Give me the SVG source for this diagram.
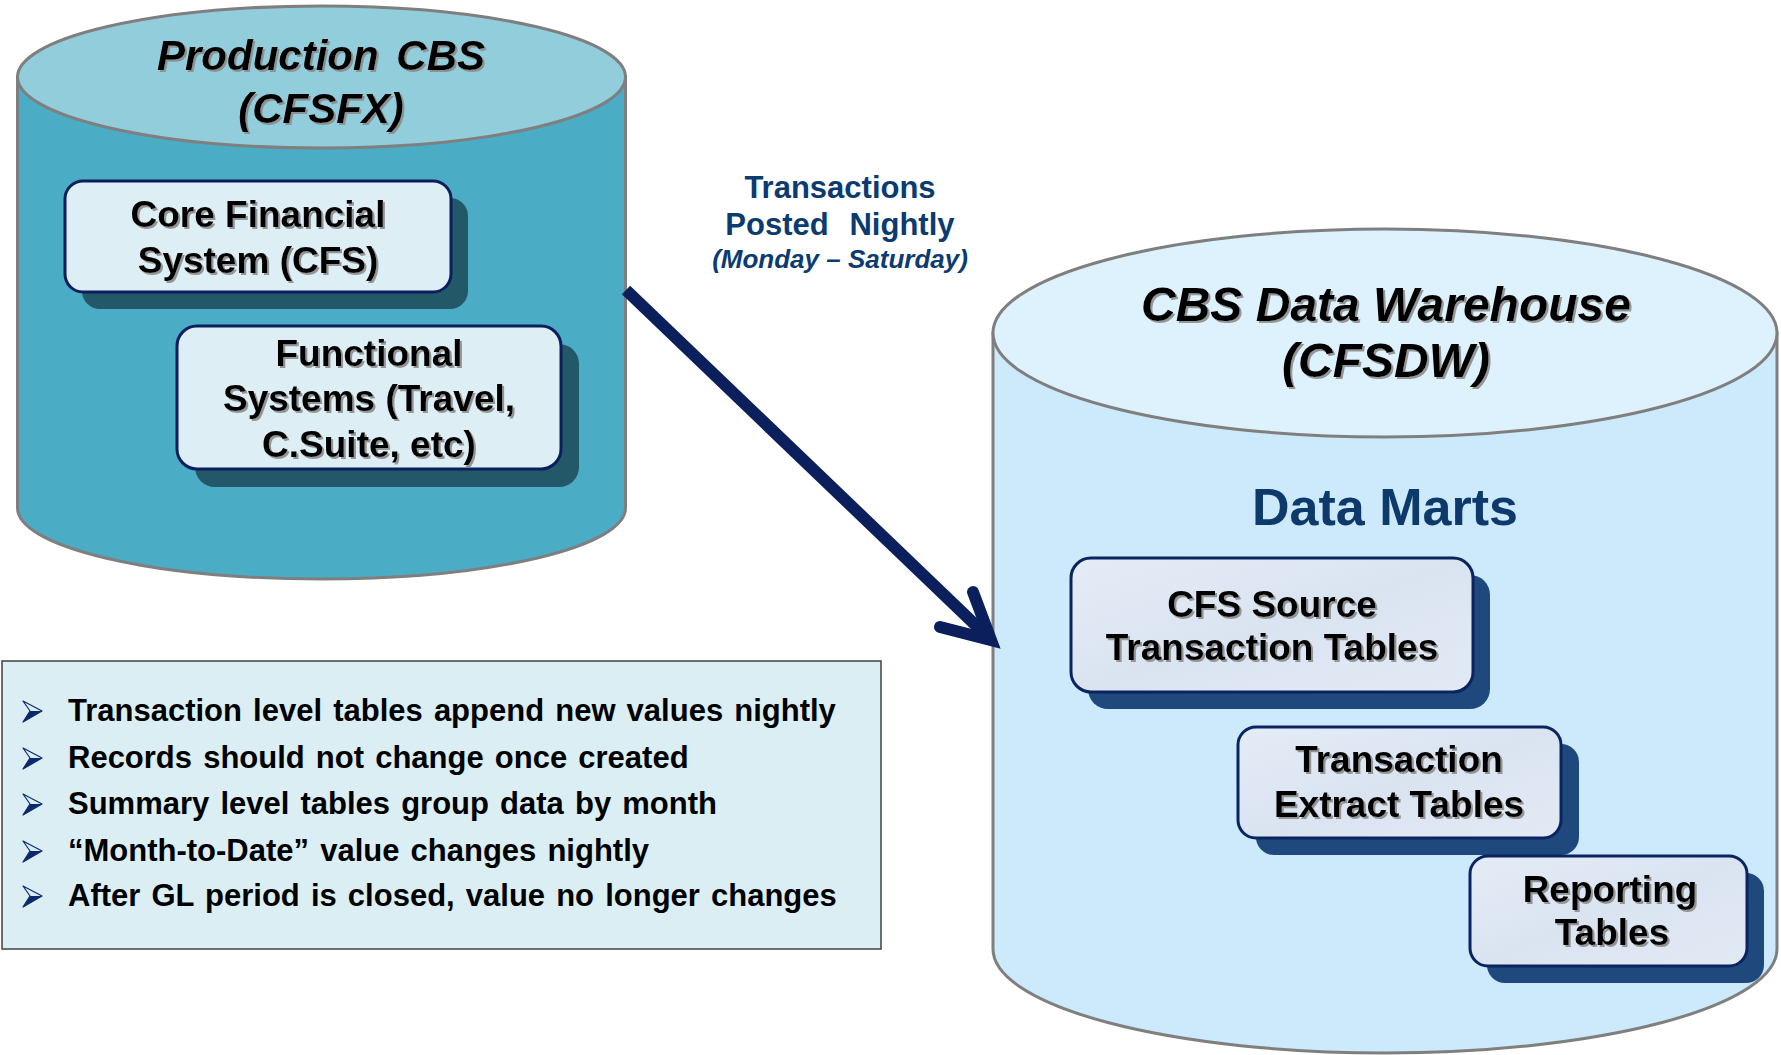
<svg xmlns="http://www.w3.org/2000/svg" width="1781" height="1055" viewBox="0 0 1781 1055">
<defs>
<filter id="ts" x="-5%" y="-20%" width="110%" height="140%">
<feDropShadow dx="2" dy="2" stdDeviation="0.6" flood-color="#8c8c8c" flood-opacity="0.9"/>
</filter>
<linearGradient id="gbox" x1="0" y1="0" x2="1" y2="1">
<stop offset="0" stop-color="#E4ECF6"/>
<stop offset="0.5" stop-color="#DAE4F1"/>
<stop offset="1" stop-color="#E2EAF4"/>
</linearGradient>
<path id="bul" d="M0,-10 L19,0 L0,11 L7,0 Z"/>
</defs>
<style>
text{font-family:"Liberation Sans",Arial,sans-serif;font-weight:bold}
.title{font-style:italic;fill:#000;text-anchor:middle;filter:url(#ts)}
.bt{font-size:37px;fill:#000;text-anchor:middle;filter:url(#ts)}
.lbl{fill:#0B3B70;font-size:31px;text-anchor:middle}
.bl{font-size:31px;fill:#000;word-spacing:2.5px}
.cyl{stroke:#7F7F7F;stroke-width:3}
.lbox{fill:#DDEEF5;stroke:#0B1F5E;stroke-width:3}
.lsh{fill:#235868}
.rbox{fill:url(#gbox);stroke:#0B2460;stroke-width:3}
.rsh{fill:#1F497D}
</style>

<g id="production-cbs">
<path class="cyl" d="M17.5,77 L17.5,508 A304,71 0 0 0 625.5,508 L625.5,77 Z" fill="#4BACC6"/>
<ellipse class="cyl" cx="321.5" cy="77" rx="304" ry="71" fill="#92CDDC"/>
<text class="title" x="321" y="70" font-size="42" word-spacing="6">Production CBS</text>
<text class="title" x="321" y="123" font-size="42">(CFSFX)</text>
</g>

<g id="core-financial-system">
<rect class="lsh" x="82" y="198" width="386" height="111" rx="18"/>
<rect class="lbox" x="65" y="181" width="386" height="111" rx="18"/>
<text class="bt" x="258" y="227">Core Financial</text>
<text class="bt" x="258" y="273">System (CFS)</text>
</g>

<g id="functional-systems">
<rect class="lsh" x="195" y="344" width="384" height="143" rx="20"/>
<rect class="lbox" x="177" y="326" width="384" height="143" rx="20"/>
<text class="bt" x="369" y="366">Functional</text>
<text class="bt" x="369" y="411">Systems (Travel,</text>
<text class="bt" x="369" y="457">C.Suite, etc)</text>
</g>

<g id="cbs-data-warehouse">
<path class="cyl" d="M993,333 L993,949 A392,104 0 0 0 1777,949 L1777,333 Z" fill="#CCEAFB"/>
<ellipse class="cyl" cx="1385" cy="333" rx="392" ry="104" fill="#DEF2FD"/>
<text class="title" x="1386" y="321" font-size="48">CBS Data Warehouse</text>
<text class="title" x="1386" y="377" font-size="48">(CFSDW)</text>
<text x="1385" y="525" font-size="52" fill="#0D3A6B" text-anchor="middle">Data Marts</text>
</g>

<g id="cfs-source-transaction-tables">
<rect class="rsh" x="1088" y="575" width="402" height="134" rx="20"/>
<rect class="rbox" x="1071" y="558" width="402" height="134" rx="20"/>
<text class="bt" x="1272" y="617">CFS Source</text>
<text class="bt" x="1272" y="660">Transaction Tables</text>
</g>

<g id="transaction-extract-tables">
<rect class="rsh" x="1256" y="744" width="323" height="111" rx="18"/>
<rect class="rbox" x="1238" y="727" width="323" height="111" rx="18"/>
<text class="bt" x="1399" y="772">Transaction</text>
<text class="bt" x="1399" y="817">Extract Tables</text>
</g>

<g id="reporting-tables">
<rect class="rsh" x="1487" y="873" width="277" height="110" rx="18"/>
<rect class="rbox" x="1470" y="856" width="277" height="110" rx="18"/>
<text class="bt" x="1610" y="902">Reporting</text>
<text class="bt" x="1612" y="945">Tables</text>
</g>

<g id="connectors">
<line x1="626" y1="290" x2="988" y2="637" stroke="#0A1F5C" stroke-width="12"/>
<polyline points="973,592 991,640 940,627" fill="none" stroke="#0A1F5C" stroke-width="12" stroke-linecap="round" stroke-linejoin="miter"/>
</g>

<g id="transfer-label">
<text class="lbl" x="840" y="198">Transactions</text>
<text class="lbl" y="235"><tspan x="777">Posted</tspan><tspan x="902">Nightly</tspan></text>
<text x="840" y="268" font-size="26" font-style="italic" fill="#0B3B70" text-anchor="middle">(Monday – Saturday)</text>
</g>

<g id="notes">
<rect x="2" y="661" width="879" height="288" fill="#DBEEF4" stroke="#404040" stroke-width="1.5"/>
<g fill="#0B2A6E" stroke="#0B2A6E" stroke-width="1.2" stroke-linejoin="round">
<use href="#bul" x="23" y="711" fill="#DBEEF4"/>
<use href="#bul" x="23" y="758" fill="#DBEEF4"/>
<use href="#bul" x="23" y="804" fill="#DBEEF4"/>
<use href="#bul" x="23" y="851" fill="#DBEEF4"/>
<use href="#bul" x="23" y="896" fill="#DBEEF4"/>
</g>
<g fill="#0B2A6E">
<path d="M23,722 L42,711 L30,711 Z"/>
<path d="M23,769 L42,758 L30,758 Z"/>
<path d="M23,815 L42,804 L30,804 Z"/>
<path d="M23,862 L42,851 L30,851 Z"/>
<path d="M23,907 L42,896 L30,896 Z"/>
</g>
<text class="bl" x="68" y="721">Transaction level tables append new values nightly</text>
<text class="bl" x="68" y="768">Records should not change once created</text>
<text class="bl" x="68" y="814">Summary level tables group data by month</text>
<text class="bl" x="68" y="861">“Month-to-Date” value changes nightly</text>
<text class="bl" x="68" y="906">After GL period is closed, value no longer changes</text>
</g>
</svg>
